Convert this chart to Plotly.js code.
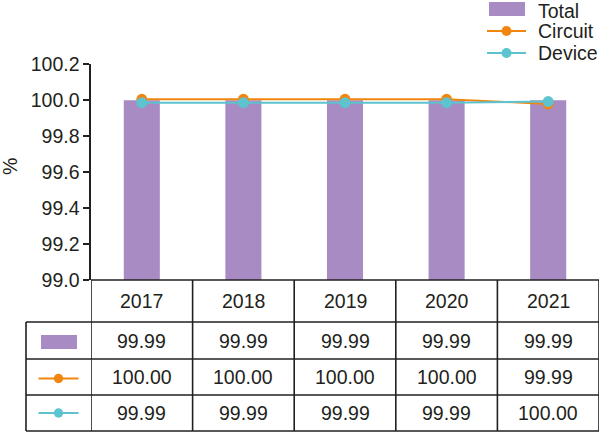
<!DOCTYPE html>
<html>
<head>
<meta charset="utf-8">
<script src="https://cdn.plot.ly/plotly-3.0.1.min.js"></script>
<style>
html,body{margin:0;padding:0;background:#fff;}
#chart{width:600px;height:433px;}
</style>
</head>
<body>
<div id="chart"></div>
<script>
// ---- data ----
const years = ['2017', '2018', '2019', '2020', '2021'];
const seriesNames = ['Total', 'Circuit', 'Device'];
const totalValues = [99.998, 99.998, 99.998, 99.998, 99.998];
const circuitValues = [100.004, 100.004, 100.004, 100.004, 99.978];
const deviceValues = [99.985, 99.985, 99.985, 99.985, 99.991];
// values as printed in the data table
const totalLabels = ['99.99', '99.99', '99.99', '99.99', '99.99'];
const circuitLabels = ['100.00', '100.00', '100.00', '100.00', '99.99'];
const deviceLabels = ['99.99', '99.99', '99.99', '99.99', '100.00'];
const yTicks = [99.0, 99.2, 99.4, 99.6, 99.8, 100.0, 100.2];

// ---- style ----
const W = 600, H = 433;
const M = {l: 91, r: 1, t: 64, b: 153};
const PW = W - M.l - M.r, PH = H - M.t - M.b;
const dark = '#231f20';
const purple = '#a78bc2';
const orange = '#f0860f';
const cyan = '#5cc3cf';
const FONT = 'Liberation Sans, Arial, Helvetica, sans-serif';
const FS = 19.5;
const px = x => (x - M.l) / PW;          // pixel x -> paper x
const py = y => (M.t + PH - y) / PH;      // pixel y -> paper y

const traces = [
  {type: 'bar', x: years, y: totalValues, name: seriesNames[0],
   marker: {color: purple, line: {width: 0}}, width: 0.355, hoverinfo: 'skip'},
  {type: 'scatter', mode: 'lines+markers', x: years, y: circuitValues, name: seriesNames[1],
   line: {color: orange, width: 2}, marker: {color: orange, size: 11}, hoverinfo: 'skip'},
  {type: 'scatter', mode: 'lines+markers', x: years, y: deviceValues, name: seriesNames[2],
   line: {color: cyan, width: 2}, marker: {color: cyan, size: 11}, hoverinfo: 'skip'}
];

const shapes = [];
const annotations = [];
const lw = 1.6;

// table grid
const rowY = [280, 322, 359, 395, 431];
shapes.push({type: 'line', xref: 'paper', yref: 'paper', x0: px(M.l), x1: 1, y0: py(rowY[0]), y1: py(rowY[0]), line: {color: dark, width: lw}});
for (let i = 1; i < rowY.length; i++) {
  shapes.push({type: 'line', xref: 'paper', yref: 'paper', x0: px(26), x1: 1, y0: py(rowY[i]), y1: py(rowY[i]), line: {color: dark, width: lw}});
}
shapes.push({type: 'line', xref: 'paper', yref: 'paper', x0: px(26), x1: px(26), y0: py(rowY[1]), y1: py(rowY[4]), line: {color: dark, width: lw}});
for (let c = 0; c <= years.length; c++) {
  shapes.push({type: 'line', xref: 'x', yref: 'paper', x0: c - 0.5, x1: c - 0.5, y0: py(rowY[0]), y1: py(rowY[4]), line: {color: dark, width: lw}});
}

// header + values
const rowLabels = [years, totalLabels, circuitLabels, deviceLabels];
for (let r = 0; r < 4; r++) {
  const yc = (rowY[r] + rowY[r + 1]) / 2;
  rowLabels[r].forEach((t, c) => {
    annotations.push({xref: 'x', yref: 'paper', x: c, y: py(yc), text: t, showarrow: false,
      xanchor: 'center', yanchor: 'middle', font: {family: FONT, size: FS, color: dark}});
  });
}

// key symbols
function keyBar(cx, cy, w, h) {
  shapes.push({type: 'rect', xref: 'paper', yref: 'paper', x0: px(cx - w / 2), x1: px(cx + w / 2),
    y0: py(cy + h / 2), y1: py(cy - h / 2), fillcolor: purple, line: {width: 0}});
}
function keyLine(cx, cy, w, r, col) {
  shapes.push({type: 'line', xref: 'paper', yref: 'paper', x0: px(cx - w / 2), x1: px(cx + w / 2),
    y0: py(cy), y1: py(cy), line: {color: col, width: 2}});
  shapes.push({type: 'circle', xref: 'paper', yref: 'paper', x0: px(cx - r), x1: px(cx + r),
    y0: py(cy + r), y1: py(cy - r), fillcolor: col, line: {width: 0}});
}
keyBar(59, 342, 36, 14);
keyLine(58.5, 378.5, 40, 4.7, orange);
keyLine(58.5, 413, 40, 4.7, cyan);

// legend (top right)
keyBar(507, 9, 36, 14);
keyLine(506.5, 31, 39, 5, orange);
keyLine(506.5, 53, 39, 5, cyan);
[11.5, 31, 53].forEach((yy, i) => {
  annotations.push({xref: 'paper', yref: 'paper', x: px(537), y: py(yy), text: seriesNames[i], showarrow: false,
    xanchor: 'left', yanchor: 'middle', borderpad: 0, font: {family: FONT, size: FS, color: dark}});
});

// y-axis title
annotations.push({xref: 'paper', yref: 'paper', x: px(10), y: py(167), text: '%', textangle: -90, showarrow: false,
  xanchor: 'center', yanchor: 'middle', font: {family: FONT, size: FS, color: dark}});

const layout = {
  width: W, height: H,
  margin: M,
  paper_bgcolor: '#fff', plot_bgcolor: '#fff',
  showlegend: false,
  font: {family: FONT, size: FS, color: dark},
  xaxis: {type: 'category', range: [-0.5, 4.5], showticklabels: false, ticks: '', showgrid: false,
    zeroline: false, showline: false, fixedrange: true},
  yaxis: {range: [99.0, 100.2], tickvals: yTicks, ticktext: yTicks.map(v => v.toFixed(1)),
    ticks: 'outside', ticklen: 6, tickwidth: lw, tickcolor: dark, showline: true, linecolor: dark, linewidth: lw,
    showgrid: false, zeroline: false, tickfont: {family: FONT, size: FS, color: dark}, fixedrange: true},
  shapes: shapes,
  annotations: annotations
};

Plotly.newPlot('chart', traces, layout, {staticPlot: true, displayModeBar: false});
</script>
</body>
</html>
